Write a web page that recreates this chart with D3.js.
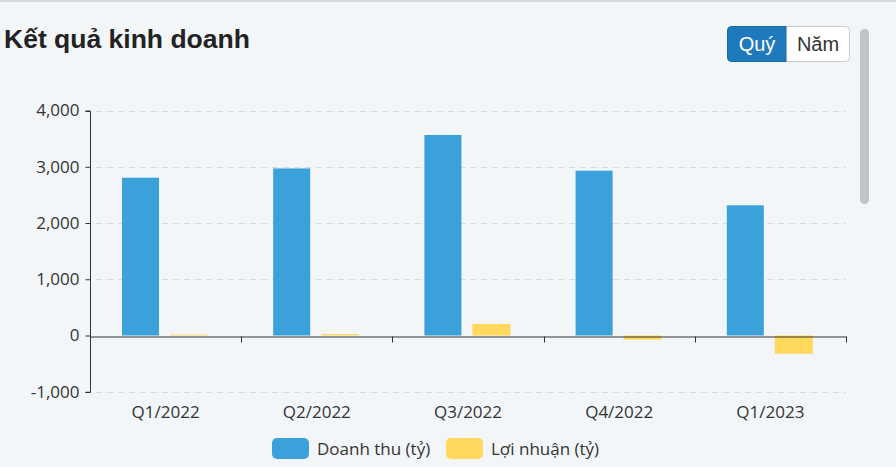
<!DOCTYPE html>
<html><head><meta charset="utf-8">
<script src="https://cdn.jsdelivr.net/npm/d3@7"></script>
<style>
html,body{margin:0;padding:0;background:#f3f6f9;overflow:hidden;}
svg{display:block;font-family:"Liberation Sans",Arial,sans-serif;}
</style></head><body>
<svg id="c" width="896" height="467"></svg>
<script>
const categories = ["Q1/2022","Q2/2022","Q3/2022","Q4/2022","Q1/2023"];
const revenue = [2805, 2970, 3565, 2930, 2315];
const profit = [15, 25, 205, -75, -325];
const yTicks = [-1000, 0, 1000, 2000, 3000, 4000];
const seriesNames = ["Doanh thu (tỷ)", "Lợi nhuận (tỷ)"];
const colors = ["#3ba1da", "#ffd85c"];
const labelFont = "'Open Sans',sans-serif";

const svg = d3.select("#c");
svg.append("rect").attr("x",0).attr("y",0).attr("width",896).attr("height",2).attr("fill","#d4d7db");
svg.append("text").attr("x",4).attr("y",48).attr("font-size",26.5).attr("font-weight","bold")
  .attr("fill","#222").text("Kết quả kinh doanh");

const bg = svg.append("g");
bg.append("rect").attr("x",727.5).attr("y",26.5).attr("width",122).attr("height",35).attr("rx",4)
  .attr("fill","#fff").attr("stroke","#c8ccd0");
bg.append("path").attr("d","M731.5,26.5 H786 V61.5 H731.5 A4,4 0 0 1 727.5,57.5 V30.5 A4,4 0 0 1 731.5,26.5 Z")
  .attr("fill","#1f7abd").attr("stroke","#1a6aa5");
bg.append("text").attr("x",757).attr("y",51).attr("text-anchor","middle").attr("font-size",20)
  .attr("fill","#fff").text("Quý");
bg.append("text").attr("x",818).attr("y",51).attr("text-anchor","middle").attr("font-size",20)
  .attr("fill","#333").text("Năm");
svg.append("rect").attr("x",860).attr("y",29).attr("width",9).attr("height",175).attr("rx",4.5).attr("fill","#c1c3c6");

const x = d3.scaleBand().domain(categories).range([90, 846]).paddingInner(0).paddingOuter(0);
const y = d3.scaleLinear().domain([-1000, 4000]).range([391.75, 110.5]);

svg.append("g").selectAll("line").data(yTicks.filter(d=>d!==0)).join("line")
  .attr("x1",96).attr("x2",846).attr("y1",d=>Math.round(y(d))+0.5).attr("y2",d=>Math.round(y(d))+0.5)
  .attr("stroke","#d9dcdf").attr("stroke-dasharray","6,5");

const fmt = d3.format(",");
const ya = svg.append("g").attr("transform","translate(90.5,0)")
  .call(d3.axisLeft(y).tickValues(yTicks).tickFormat(d=>fmt(d).replace("−","-")).tickSize(5).tickPadding(6));
ya.select(".domain").attr("stroke","#333").attr("d", `M-5,${Math.round(y(4000))+0.5}H0V${Math.round(y(-1000))+0.5}H-5`);
ya.selectAll(".tick line").attr("stroke","#333");
ya.selectAll(".tick text").attr("font-size",17).attr("fill","#333").attr("font-family",labelFont);

const bw = 37, gap = 11, off = 32;
const g = svg.append("g");
g.selectAll(".rev").data(categories).join("rect")
  .attr("x",(d)=>x(d)+off).attr("width",bw)
  .attr("y",(d,i)=>y(Math.max(0,revenue[i]))).attr("height",(d,i)=>Math.abs(y(revenue[i])-y(0)))
  .attr("fill",colors[0]);
g.selectAll(".pro").data(categories).join("rect")
  .attr("x",(d)=>x(d)+off+bw+gap).attr("width",bw+1)
  .attr("y",(d,i)=>y(Math.max(0,profit[i]))).attr("height",(d,i)=>Math.abs(y(profit[i])-y(0)))
  .attr("fill",colors[1]);

const xa = svg.append("g").attr("transform",`translate(0,${Math.round(y(0))+0.5})`)
  .call(d3.axisBottom(x).tickSize(0).tickFormat(""));
xa.select(".domain").attr("stroke","#333");
xa.selectAll(".tick").remove();
xa.selectAll(".sep").data(categories).join("line")
  .attr("x1",d=>Math.round(x(d)+x.bandwidth())+0.5).attr("x2",d=>Math.round(x(d)+x.bandwidth())+0.5)
  .attr("y1",0).attr("y2",6).attr("stroke","#333");

svg.append("g").selectAll("text").data(categories).join("text")
  .attr("x",d=>x(d)+x.bandwidth()/2).attr("y",418).attr("text-anchor","middle")
  .attr("font-size",17).attr("fill","#333").attr("font-family",labelFont).text(d=>d);

const leg = svg.append("g");
const legX = [272, 446];
seriesNames.forEach((n,i)=>{
  leg.append("rect").attr("x",legX[i]).attr("y",438).attr("width",37).attr("height",21).attr("rx",5).attr("fill",colors[i]);
  leg.append("text").attr("x",legX[i]+45).attr("y",455).attr("font-size",17).attr("fill","#333")
    .attr("font-family",labelFont).text(n);
});
</script></body></html>
